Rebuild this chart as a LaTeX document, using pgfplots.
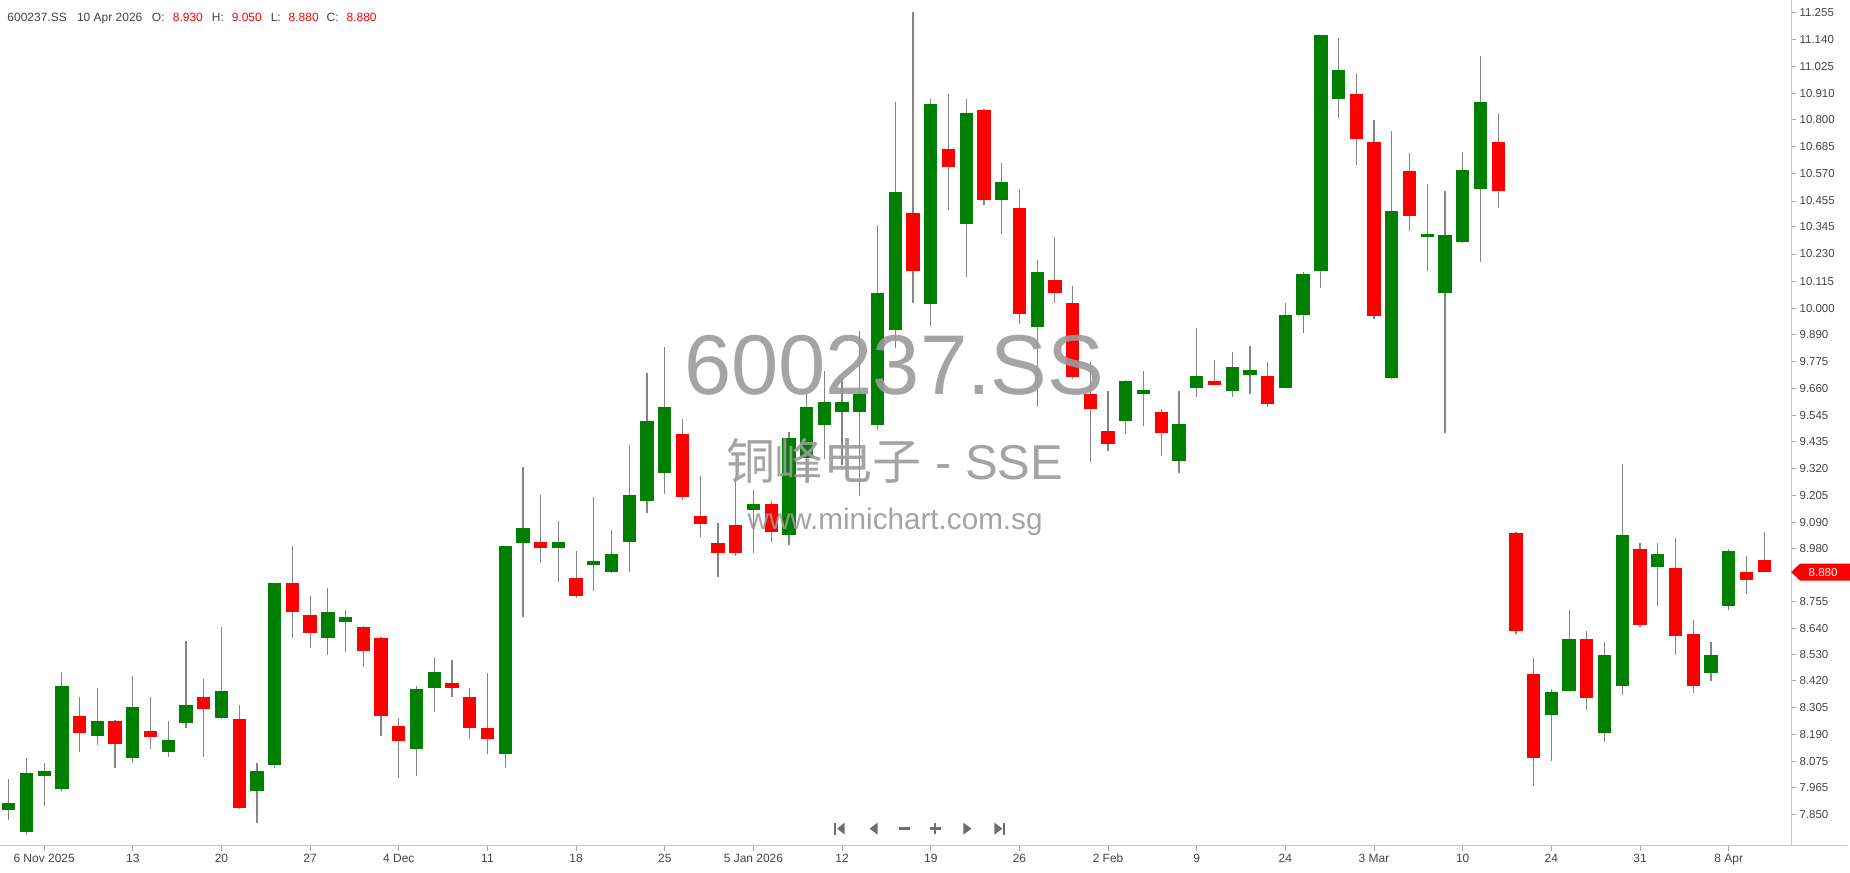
\documentclass[border=0pt]{standalone}
\usepackage{fontspec}
\setmainfont{Liberation Sans}
\newfontfamily\cjk{Noto Sans CJK SC}
\usepackage{pgfplots}
\usepackage{pgfplotstable}
\pgfplotsset{compat=1.18}
\definecolor{cup}{HTML}{008000}
\definecolor{cdn}{HTML}{FF0000}
\definecolor{wick}{HTML}{858585}
\definecolor{axisgray}{HTML}{C8C8C8}
\definecolor{labgray}{HTML}{444444}
\definecolor{wm}{HTML}{9A9A9A}
\definecolor{navgray}{HTML}{6E6E6E}

% up candles (close >= open): index open high low close
\pgfplotstableread{
i o h l c
0 7.871 8.002 7.828 7.899
1 7.775 8.090 7.765 8.026
2 8.016 8.069 7.889 8.036
3 7.958 8.455 7.949 8.395
5 8.186 8.387 8.148 8.247
7 8.090 8.438 8.069 8.306
9 8.117 8.247 8.096 8.168
10 8.238 8.586 8.217 8.316
12 8.261 8.645 8.255 8.374
14 7.949 8.069 7.816 8.035
15 8.060 8.835 8.047 8.835
18 8.600 8.811 8.529 8.709
19 8.668 8.720 8.539 8.688
23 8.130 8.395 8.016 8.385
24 8.387 8.518 8.288 8.455
28 8.107 8.989 8.049 8.989
29 9.002 9.328 8.689 9.068
31 8.981 9.095 8.836 9.006
33 8.911 9.197 8.801 8.925
34 8.880 9.058 8.875 8.958
35 9.008 9.420 8.880 9.208
36 9.181 9.725 9.131 9.521
37 9.302 9.834 9.212 9.580
42 9.143 9.227 8.959 9.168
44 9.038 9.476 8.993 9.450
45 9.363 9.636 9.262 9.580
46 9.503 9.733 9.358 9.600
47 9.558 9.703 9.333 9.600
48 9.558 9.905 9.202 9.634
49 9.503 10.354 9.484 10.065
50 9.908 10.877 9.829 10.494
52 10.018 10.889 9.925 10.867
54 10.356 10.889 10.132 10.830
56 10.460 10.617 10.314 10.537
58 9.918 10.203 9.582 10.154
63 9.523 9.695 9.464 9.691
64 9.637 9.733 9.501 9.651
66 9.353 9.650 9.300 9.510
67 9.662 9.916 9.624 9.712
69 9.647 9.814 9.624 9.752
70 9.715 9.841 9.634 9.738
72 9.662 10.022 9.660 9.972
73 9.973 10.154 9.894 10.144
74 10.156 11.159 10.087 11.159
75 10.888 11.148 10.809 11.010
78 9.704 10.754 9.700 10.414
80 10.304 10.527 10.156 10.314
81 10.065 10.496 9.469 10.312
82 10.279 10.664 10.275 10.585
83 10.506 11.069 10.198 10.877
87 8.274 8.385 8.080 8.372
88 8.374 8.720 8.370 8.596
90 8.195 8.585 8.160 8.527
91 8.396 9.340 8.358 9.038
93 8.900 9.002 8.735 8.958
96 8.453 8.585 8.418 8.527
97 8.737 8.978 8.720 8.968
}\upc

% down candles (close < open)
\pgfplotstableread{
i o h l c
4 8.268 8.349 8.115 8.196
6 8.247 8.254 8.047 8.149
8 8.204 8.349 8.127 8.180
11 8.349 8.428 8.096 8.298
13 8.258 8.316 7.875 7.879
16 8.835 8.989 8.599 8.710
17 8.698 8.778 8.556 8.621
20 8.645 8.650 8.477 8.546
21 8.599 8.603 8.186 8.271
22 8.226 8.260 8.005 8.161
25 8.408 8.507 8.351 8.387
26 8.349 8.387 8.172 8.217
27 8.217 8.450 8.107 8.170
30 9.006 9.207 8.917 8.981
32 8.856 8.968 8.768 8.778
38 9.467 9.531 9.185 9.200
39 9.117 9.287 9.030 9.084
40 9.005 9.089 8.858 8.959
41 9.080 9.282 8.949 8.959
43 9.169 9.181 9.008 9.050
51 10.405 11.259 10.023 10.157
53 10.675 10.909 10.415 10.598
55 10.840 10.844 10.438 10.460
57 10.425 10.504 9.933 9.976
59 10.120 10.304 10.023 10.066
60 10.021 10.095 9.700 9.706
61 9.636 9.770 9.346 9.572
62 9.479 9.649 9.392 9.422
65 9.560 9.571 9.373 9.470
68 9.691 9.780 9.672 9.672
71 9.712 9.771 9.581 9.592
76 10.908 10.999 10.607 10.718
77 10.707 10.797 9.954 9.966
79 10.584 10.660 10.326 10.391
84 10.707 10.829 10.426 10.496
85 9.047 9.052 8.619 8.629
86 8.447 8.517 7.970 8.090
89 8.596 8.628 8.294 8.347
92 8.979 9.002 8.645 8.656
94 8.898 9.026 8.528 8.608
95 8.618 8.677 8.365 8.396
98 8.879 8.947 8.789 8.847
99 8.930 9.050 8.880 8.880
}\dnc

\begin{document}
\begin{tikzpicture}[x=1pt,y=1pt]
\begin{axis}[
  scale only axis, width=1794pt, height=847pt,
  xmin=-0.49, xmax=100.52, ymin=7.719, ymax=11.308,
  axis x line=bottom, axis y line=right,
  axis line style={-, axisgray, line width=1pt},
  every outer x axis line/.append style={-},
  every outer y axis line/.append style={-},
  clip=false,
  tick align=outside, major tick length=5pt,
  tick style={draw=black!35, line width=0.8pt},
  xtick={2,7,...,97},
  xticklabels={6 Nov 2025,13,20,27,4 Dec,11,18,25,5 Jan 2026,12,19,26,2 Feb,9,24,3 Mar,10,24,31,8 Apr},
  ytick={11.255,11.140,11.025,10.910,10.800,10.685,10.570,10.455,10.345,10.230,10.115,10.000,9.890,9.775,9.660,9.545,9.435,9.320,9.205,9.090,8.980,8.755,8.640,8.530,8.420,8.305,8.190,8.075,7.965,7.850},
  yticklabels={11.255,11.140,11.025,10.910,10.800,10.685,10.570,10.455,10.345,10.230,10.115,10.000,9.890,9.775,9.660,9.545,9.435,9.320,9.205,9.090,8.980,8.755,8.640,8.530,8.420,8.305,8.190,8.075,7.965,7.850},
  xticklabel style={font=\fontsize{12}{14}\selectfont, text=labgray},
  yticklabel style={font=\fontsize{11.5}{14}\selectfont, text=labgray},
]
% wicks
\addplot[draw=none, mark=none, forget plot, error bars/.cd, y dir=plus, y explicit, error mark=none,
  error bar style={draw=wick, line width=1.2pt}]
  table[x=i, y=l, y error expr=\thisrow{h}-\thisrow{l}] {\upc};
\addplot[draw=none, mark=none, forget plot, error bars/.cd, y dir=plus, y explicit, error mark=none,
  error bar style={draw=wick, line width=1.2pt}]
  table[x=i, y=l, y error expr=\thisrow{h}-\thisrow{l}] {\dnc};
% bodies
\addplot[draw=none, mark=none, forget plot, error bars/.cd, y dir=plus, y explicit, error mark=none,
  error bar style={draw=cup, line width=13.3pt, line cap=butt}]
  table[x=i, y=o, y error expr=\thisrow{c}-\thisrow{o}] {\upc};
\addplot[draw=none, mark=none, forget plot, error bars/.cd, y dir=plus, y explicit, error mark=none,
  error bar style={draw=cdn, line width=13.3pt, line cap=butt}]
  table[x=i, y=c, y error expr=\thisrow{o}-\thisrow{c}] {\dnc};
\coordinate (bl) at (rel axis cs:0,0);
\coordinate (px) at (axis cs:100.52,8.88);
\end{axis}
\pgfresetboundingbox
\begin{scope}[shift={(bl)}, yshift=-27pt]
\useasboundingbox (0pt,0pt) rectangle (1850pt,874pt);
% extend bottom axis line to the right edge
\draw[axisgray, line width=1pt] (1794pt,27pt) -- (1850pt,27pt);
\end{scope}
% last price marker
\fill[cdn] (px) -- ++(9pt,8.5pt) -- ++(50pt,0pt) -- ++(0pt,-17pt) -- ++(-50pt,0pt) -- cycle;
\node[text=white, font=\fontsize{11.5}{14}\selectfont, inner sep=0pt] at ([xshift=32pt]px) {8.880};
\begin{scope}[shift={(bl)}, yshift=-27pt]
% watermark
\node[anchor=base, inner sep=0pt, text=wm, opacity=0.9, font=\fontsize{85}{85}\selectfont] at (895.5pt,479pt) {600237.SS};
\node[anchor=base, inner sep=0pt, text=wm, opacity=0.9, font=\fontsize{49}{49}\selectfont] at (896pt,394pt) {{\cjk 铜峰电子} - SSE};
\node[anchor=base, inner sep=0pt, text=wm, opacity=0.9, font=\fontsize{29.7}{30}\selectfont] at (896.5pt,344pt) {www.minichart.com.sg};
% header
\begin{scope}[every node/.style={anchor=base west, inner sep=0pt, font=\fontsize{12}{14}\selectfont}]
\node[text=labgray] at (7.3pt,852pt) {600237.SS};
\node[text=labgray] at (77pt,852pt) {10 Apr 2026};
\node[text=labgray] at (152pt,852pt) {O:};
\node[text=cdn] at (173pt,852pt) {8.930};
\node[text=labgray] at (212pt,852pt) {H:};
\node[text=cdn] at (232pt,852pt) {9.050};
\node[text=labgray] at (271pt,852pt) {L:};
\node[text=cdn] at (289pt,852pt) {8.880};
\node[text=labgray] at (327pt,852pt) {C:};
\node[text=cdn] at (347pt,852pt) {8.880};
\end{scope}
% navigation buttons
\begin{scope}[navgray]
\fill (835.5pt,38pt) rectangle (837.7pt,50pt);
\fill (846pt,38pt) -- (846pt,50pt) -- (838.5pt,44pt) -- cycle;
\fill (879pt,38pt) -- (879pt,50pt) -- (871pt,44pt) -- cycle;
\fill (900pt,43pt) rectangle (911pt,45.2pt);
\fill (931pt,43pt) rectangle (942.6pt,45.2pt);
\fill (935.7pt,38.4pt) rectangle (937.9pt,49.8pt);
\fill (965pt,38pt) -- (965pt,50pt) -- (973pt,44pt) -- cycle;
\fill (996pt,38pt) -- (996pt,50pt) -- (1004pt,44pt) -- cycle;
\fill (1004.6pt,38pt) rectangle (1006.8pt,50pt);
\end{scope}
\end{scope}
\end{tikzpicture}
\end{document}
